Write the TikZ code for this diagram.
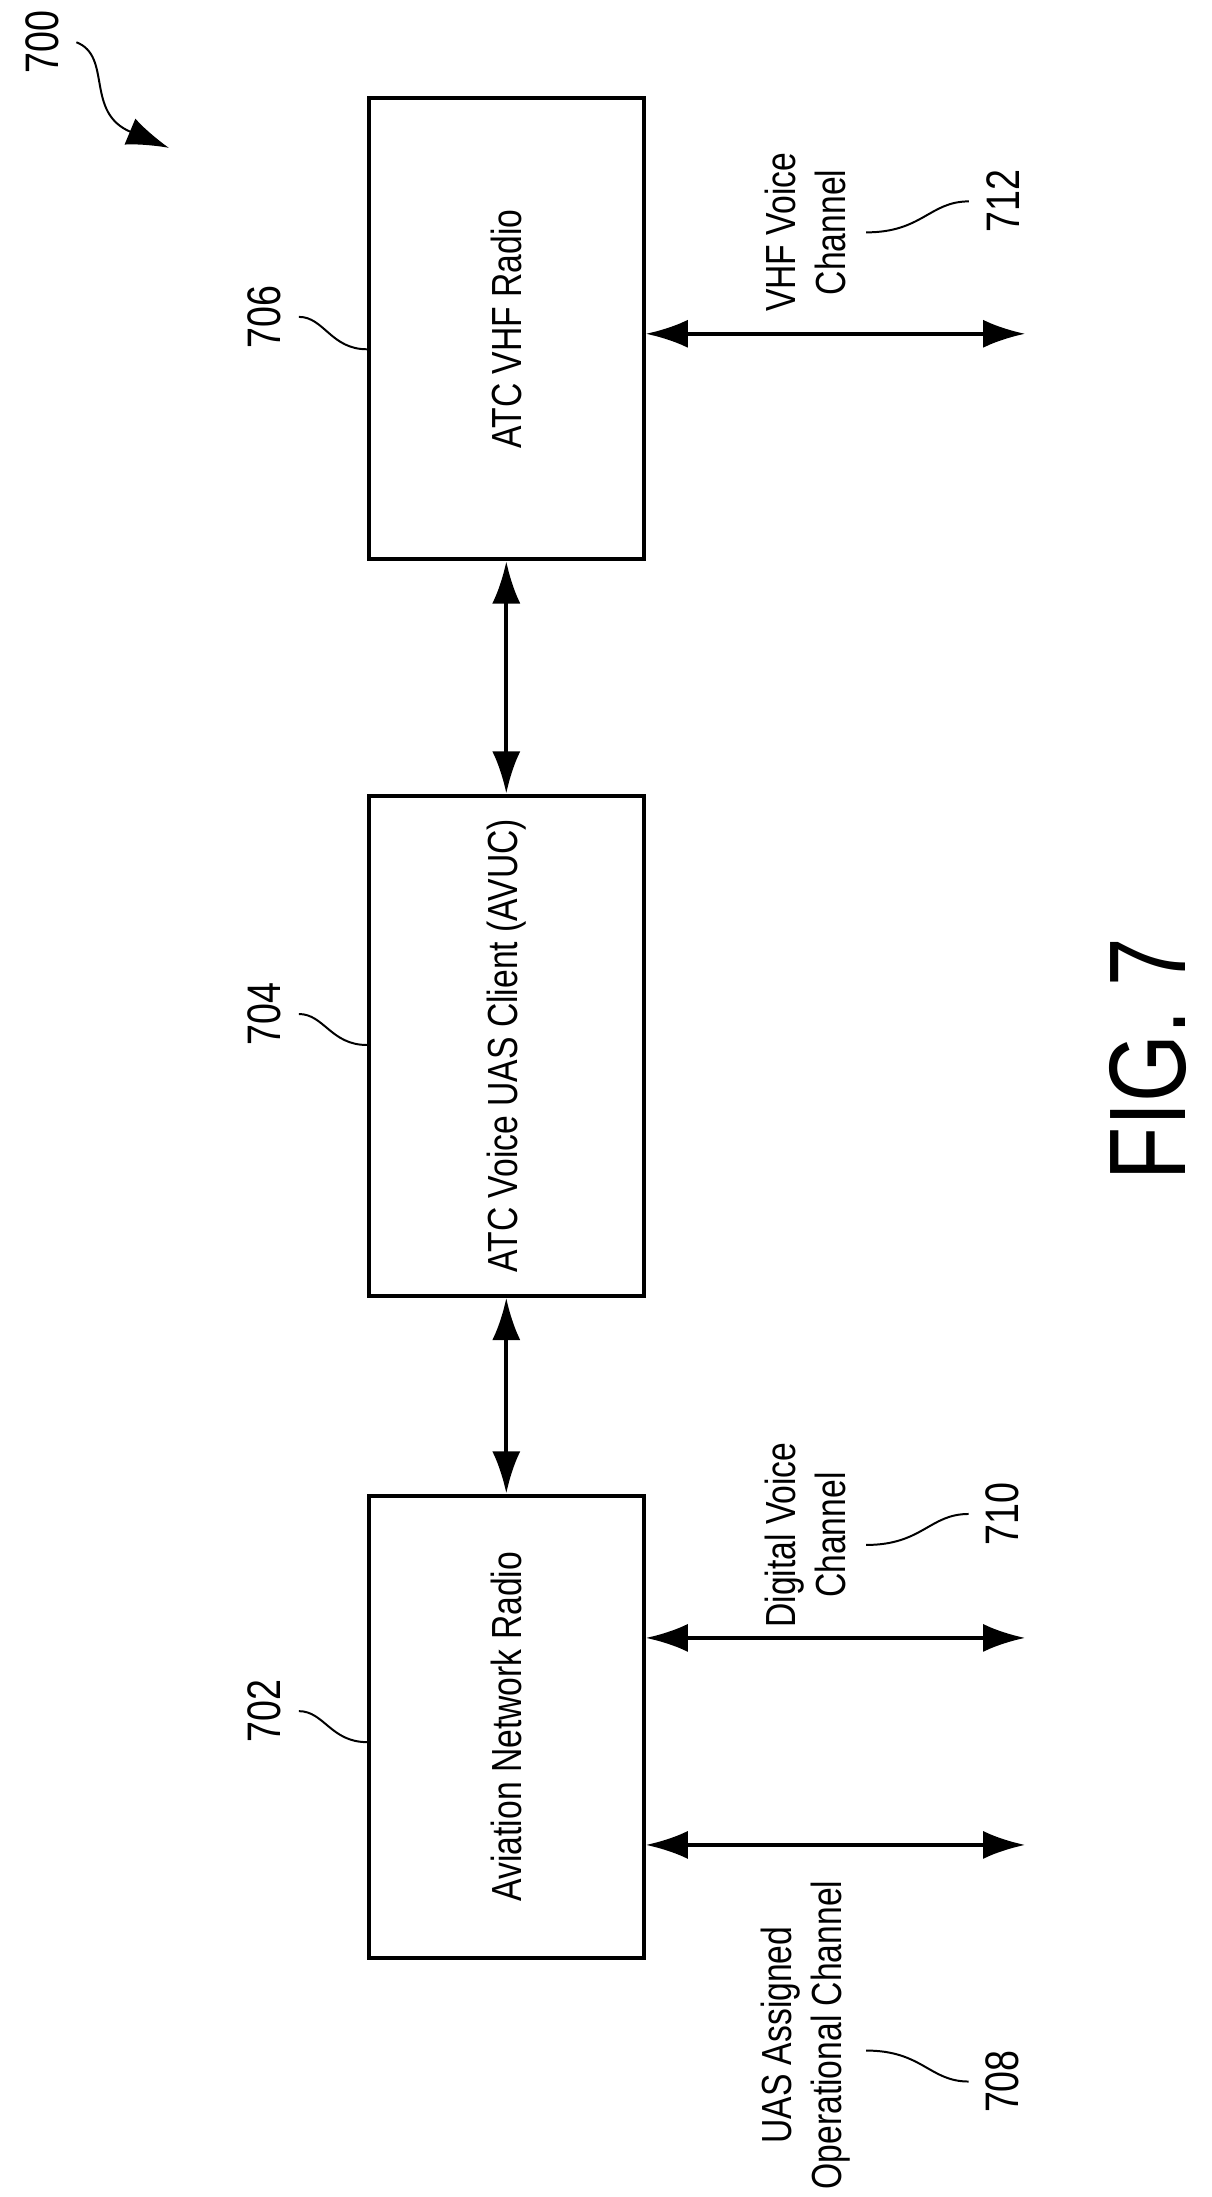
\documentclass[tikz,border=0pt]{standalone}
\usepackage{fontspec}
\setmainfont{Liberation Sans}[FakeStretch=0.8]
\usetikzlibrary{arrows.meta}
\tikzset{
  box/.style={draw, thick, minimum width=1.95cm, minimum height=3.3cm, inner sep=0pt},
  lbl/.style={rotate=90, font=\fontsize{8.5}{10}\selectfont, align=center},
  num/.style={rotate=90, font=\fontsize{9.5}{11}\selectfont},
  link/.style={thick, {Latex[length=3mm,width=2mm]}-{Latex[length=3mm,width=2mm]}},
  lead/.style={thin}
}
\begin{document}
\begin{tikzpicture}[x=0.01cm,y=-0.01cm]
    \useasboundingbox (0,0) rectangle (860,1560);
    %blocks
    \node[box, minimum height=3.27cm] (vhf) at (359.5,233.5) {};
    \node[lbl] at (vhf) {ATC VHF Radio};
    \node[box, minimum height=3.55cm] (avuc) at (359.5,742.5) {};
    \node[lbl] at (avuc) {ATC Voice UAS Client (AVUC)};
    \node[box, minimum height=3.28cm] (anr) at (359.5,1226) {};
    \node[lbl] at (anr) {Aviation Network Radio};

    %links between blocks
    \draw[link] (vhf) -- (avuc);
    \draw[link] (avuc) -- (anr);

    %channels
    \coordinate (c712) at (728,237);
    \coordinate (c710) at (728,1163);
    \coordinate (c708) at (728,1310);
    \draw[link] (vhf.east |- c712) -- (c712);
    \draw[link] (anr.east |- c710) -- (c710);
    \draw[link] (anr.east |- c708) -- (c708);
    \node[lbl] (t712) at (572,165) {VHF Voice\\Channel};
    \node[lbl] (t710) at (572,1090) {Digital Voice\\Channel};
    \node[lbl] (t708) at (572,1445) {UAS Assigned\\Operational Channel};

    %reference numerals
    \node[num] (n706) at (188,225) {706};
    \node[num] (n704) at (188,720) {704};
    \node[num] (n702) at (188,1215) {702};
    \node[num] (n712) at (712,143) {712};
    \node[num] (n710) at (712,1075) {710};
    \node[num] (n708) at (712,1478) {708};
    \draw[lead] (n706.south) .. controls (230,225) and (235,248) .. (vhf.west |- 0,248);
    \draw[lead] (n704.south) .. controls (230,720) and (235,742) .. (avuc.west |- 0,742);
    \draw[lead] (n702.south) .. controls (230,1215) and (235,1237) .. (anr.west |- 0,1237);
    \draw[lead] (n712.north) .. controls (660,143) and (655,165) .. (615,165);
    \draw[lead] (n710.north) .. controls (660,1075) and (655,1097) .. (615,1097);
    \draw[lead] (n708.north) .. controls (660,1478) and (655,1456) .. (615,1456);

    %figure number
    \node[num] (n700) at (30,30) {700};
    \draw[thin, -{Latex[length=3mm,width=2mm]}] (n700.south) .. controls (80,40) and (60,80) .. (120,105);
    \node[rotate=90, font=\fontsize{22}{26}\selectfont] (fig) at (815,752) {FIG. 7};
\end{tikzpicture}
\end{document}
